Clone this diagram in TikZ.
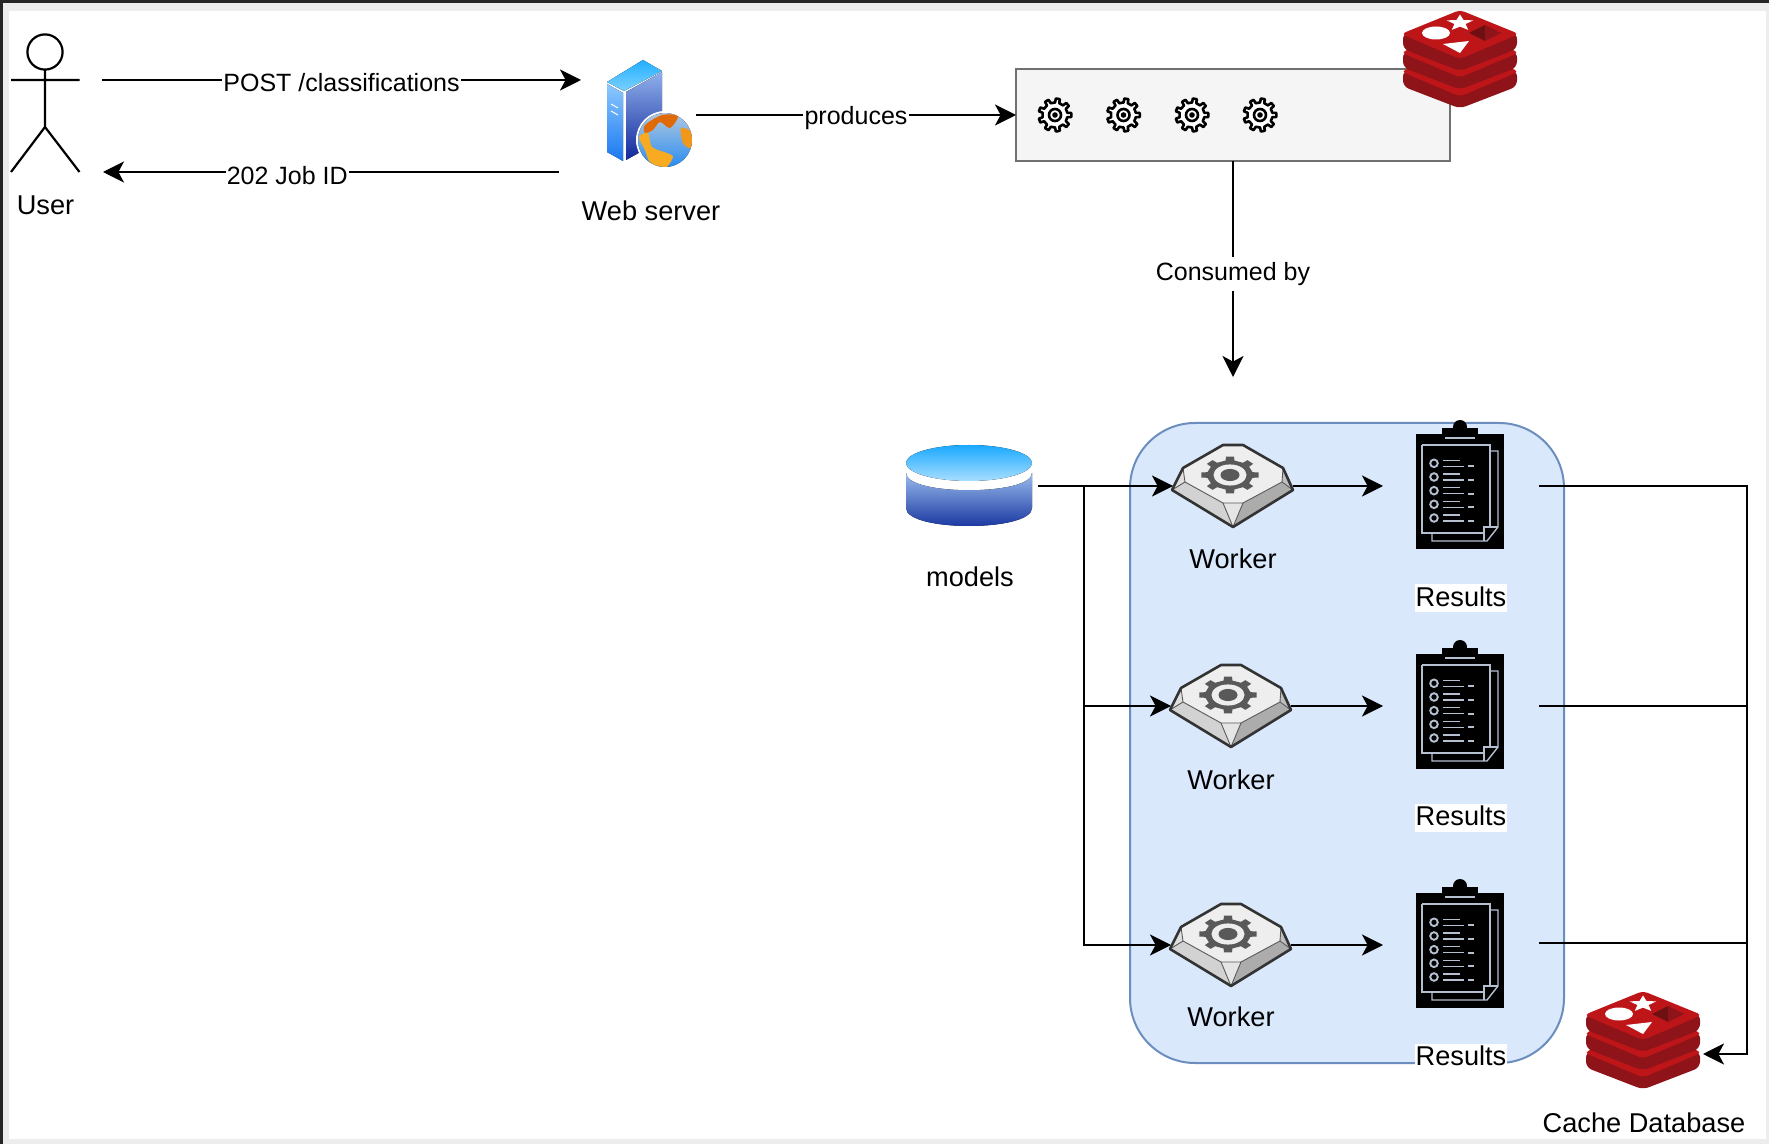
\documentclass[tikz,border=0pt]{standalone}
\usepackage{fontspec}
\setmainfont{Liberation Sans}
\usetikzlibrary{arrows.meta,calc}
\definecolor{redisBright}{HTML}{BE1519}
\definecolor{redisDark}{HTML}{8F1419}
\definecolor{redisDeep}{HTML}{6E0F12}
\definecolor{sheet}{HTML}{B4BFD0}
\definecolor{groupFill}{HTML}{DAE8FC}
\definecolor{groupLine}{HTML}{6C8EBF}
\definecolor{queueFill}{HTML}{F5F5F5}
\definecolor{queueLine}{HTML}{707070}
\definecolor{towerTopA}{HTML}{22B0FF}
\definecolor{towerTopB}{HTML}{7CD0FF}
\definecolor{towerLeftA}{HTML}{8CC8FF}
\definecolor{towerLeftB}{HTML}{1A78F0}
\definecolor{towerRightA}{HTML}{8FB0EC}
\definecolor{towerRightB}{HTML}{12289A}
\definecolor{globeA}{HTML}{B0C8E0}
\definecolor{globeB}{HTML}{2A8CF0}
\definecolor{landA}{HTML}{E06A08}
\definecolor{landB}{HTML}{F8AA20}
\definecolor{drumTopA}{HTML}{1AA9FF}
\definecolor{drumTopB}{HTML}{A8DEFF}
\definecolor{drumBodyA}{HTML}{9ABCEC}
\definecolor{drumBodyB}{HTML}{0D2A9A}
\tikzset{
  hit/.style 2 args={draw=none,inner sep=0pt,outer sep=0pt,minimum width=#1*0.5pt,minimum height=#2*0.5pt},
  lab/.style={font=\fontsize{13.6}{16}\selectfont,inner sep=0pt,text=black},
  edgelab/.style={font=\fontsize{12.5}{15}\selectfont,fill=white,inner xsep=0.6pt,inner ysep=1.5pt,text=black},
  reslab/.style={lab,fill=white,inner xsep=0.5pt,text height=11pt,text depth=3pt},
  link/.style={line width=1.1pt,draw=black},
  arrowed/.style={link,-{Stealth[length=10.5pt,width=10.5pt,inset=2.8pt]}},
  pics/redisicon/.style={code={
    \foreach \d in {37.5,18.5,0}{
      \fill[redisDark,rounded corners=3pt] (-57,22+\d) -- (-57,38+\d) -- (0,60+\d) -- (57,38+\d) -- (57,22+\d) -- cycle;
      \fill[redisBright,rounded corners=2.5pt] (-59,23+\d) -- (0,-1+\d) -- (59,23+\d) -- (0,48+\d) -- cycle;
    }
    \fill[white] (-24,22) ellipse [x radius=14,y radius=6.5];
    \fill[white] (0,3.5) -- (3.5,9) -- (13.3,9.4) -- (5.6,13) -- (8.2,18.9) -- (0,15.6) -- (-8.2,18.9) -- (-5.6,13) -- (-13.3,9.4) -- (-3.5,9) -- cycle;
    \fill[white] (-17,33) -- (9,30) -- (0,42) -- cycle;
    \fill[redisDeep] (25,14) -- (9,22) -- (25,30) -- cycle;
    \fill[redisDark] (25,14) -- (41,22) -- (25,30) -- cycle;
  }},
  pics/gearicon/.style={code={
    \draw[line width=1.3pt,fill=white,line join=round]
      (-10:12.5) foreach \a in {0,40,...,320}{ -- (\a-10:12.5) -- (\a-7:16.5) -- (\a+7:16.5) -- (\a+10:12.5) } -- cycle;
    \draw[line width=1.3pt] (0,0) circle [radius=6];
    \fill (0,0) circle [radius=2.8];
  }},
  pics/workericon/.style={code={
    \fill[gray!35] (-48,-4) -- (-10,17) -- (0,41) -- (-61,4) -- cycle;
    \fill[gray!65] (49,-4) -- (10,17) -- (0,41) -- (60,4) -- cycle;
    \fill[gray!20] (-10,17) -- (10,17) -- (0,41) -- cycle;
    \fill[gray!25] (-50,-18) -- (-48,-4) -- (-61,4) -- cycle;
    \fill[gray!50] (50,-18) -- (49,-4) -- (60,4) -- cycle;
    \fill[gray!13] (-10,-41) -- (10,-41) -- (50,-18) -- (49,-4) -- (10,17) -- (-10,17) -- (-48,-4) -- (-50,-18) -- cycle;
    \draw[line width=0.45pt,draw=gray!70!black] (-50,-18) -- (-48,-4) -- (-10,17) -- (0,41) (-48,-4) -- (-61,4) (50,-18) -- (49,-4) -- (10,17) -- (0,41) (49,-4) -- (60,4) (-10,17) -- (10,17);
    \begin{scope}[shift={(-3,-11)},yscale=0.64]
      \fill[black!65] (-11:23) foreach \a in {0,45,...,315}{ -- (\a-11:23) -- (\a-8:29) -- (\a+8:29) -- (\a+11:23) } -- cycle;
      \fill[gray!13] (0,0) circle [radius=16.5];
      \fill[black!65] (0,0) circle [radius=9.5];
    \end{scope}
    \draw[line width=1.3pt,draw=black!80,line join=round] (-10,-41) -- (10,-41) -- (50,-18) -- (60,4) -- (0,41) -- (-61,4) -- (-50,-18) -- cycle;
  }},
  pics/clipicon/.style={code={
    \fill[black] (-44,-52) rectangle (44,63);
    \fill[black] (-18,-58) rectangle (18,-42);
    \fill[black] (0,-59) circle [radius=7];
    \begin{scope}[draw=sheet,line width=0.7pt]
      \draw (-15,-48) -- (15,-48);
      \draw (-38,-41) -- (30,-41) -- (30,41);
      \draw (-38,-41) -- (-38,47) -- (24,47);
      \draw (30,-35) -- (38,-35) -- (38,41) -- (27,55) -- (-28,55) -- (-28,47);
      \draw (24,55) -- (24,41) -- (38,41);
      \foreach \r in {-22.7,-9,4.7,18.3,32}{
        \draw[line width=0.95pt] (-26,\r) circle [radius=3.8];
        \draw (-17,\r-3) -- (0,\r-3);
        \draw (-17,\r+3) -- (4,\r+3);
        \draw[line width=0.95pt] (8,\r+3) -- (14,\r+3);
      }
    \end{scope}
  }},
}
\begin{document}
\begin{tikzpicture}[x=0.5pt,y=-0.5pt]
\useasboundingbox (0,0) rectangle (1769,1144);
% window frame
\fill[gray!14] (0,0) rectangle (1769,1144);
\fill[white] (9,11) rectangle (1766,1139);
\fill[black!85] (0,0) rectangle (1769,3);
\fill[black!85] (0,0) rectangle (3,1144);

% group background
\node[hit={434}{640},draw=groupLine,line width=1pt,fill=groupFill,rounded corners=32.5pt] (group) at (1347,743) {};

% user
\node[hit={69}{138}] (user) at (45,103) {};
\draw[link] (45,52) circle [radius=17.6];
\draw[link] (45,70) -- (45,127) (11,80) -- (79.5,80) (11,172) -- (45,127) -- (79.5,172);
\node[lab] (userlabel) at (45.5,205) {User};

% web server
\node[hit={96}{110}] (web) at (648,115) {};
\fill[top color=towerTopA,bottom color=towerTopB] (607,82) -- (643,60) -- (662,71) -- (624,91) -- cycle;
\fill[top color=towerLeftA,bottom color=towerLeftB] (607,84) -- (623,93) -- (623,161) -- (607,152) -- cycle;
\fill[top color=towerRightA,bottom color=towerRightB] (626,92) -- (662,72) -- (662,140) -- (626,160) -- cycle;
\draw[white,line width=0.5pt] (611,104) -- (618,108) (611,111) -- (618,115);
\begin{scope}[shift={(665,140)}]
  \fill[white] (0,0) circle [radius=29];
  \begin{scope}
    \clip (0,0) circle [radius=27];
    \fill[top color=globeA,bottom color=globeB] (-27,-27) rectangle (27,27);
    \fill[landA] plot[smooth cycle] coordinates {(-20,-15) (-3,-25) (13,-24) (5,-12) (-5,-18) (-12,-10) (-20,-7)};
    \fill[landB!70!landA] plot[smooth cycle] coordinates {(16,-12) (28,-7) (26,8) (18,3)};
    \fill[landB] plot[smooth cycle] coordinates {(-26,-3) (-17,-7) (-13,7) (2,13) (8,17) (0,28) (-15,22) (-20,10)};
  \end{scope}
\end{scope}
\node[lab] (weblabel) at (651,211) {Web server};

% queue
\node[hit={434}{92},draw=queueLine,line width=1pt,fill=queueFill] (queue) at (1233,115) {};
\pic at (1055,115) {gearicon};
\pic at (1123.5,115) {gearicon};
\pic at (1192,115) {gearicon};
\pic at (1260,115) {gearicon};
\node[hit={114}{96}] (queueredis) at (1460,59) {};
\pic at (1460,11) {redisicon};

% models
\node[hit={126}{81}] (models) at (969,486) {};
\fill[top color=drumBodyA,bottom color=drumBodyB] (906,473) .. controls (906,496) and (1032,496) .. (1032,473) -- (1032,508) .. controls (1032,532) and (906,532) .. (906,508) -- cycle;
\fill[top color=drumTopA,bottom color=drumTopB] (969,463) ellipse [x radius=63,y radius=18];
\node[lab] (modelslabel) at (970,577) {models};

% workers
\node[hit={120}{83}] (worker1) at (1233,486) {};
\node[hit={120}{83}] (worker2) at (1231,706) {};
\node[hit={120}{83}] (worker3) at (1231,945) {};
\pic at (1233,486) {workericon};
\pic at (1231,706) {workericon};
\pic at (1231,945) {workericon};
\node[lab] (worker1label) at (1233,559) {Worker};
\node[lab] (worker2label) at (1231,780) {Worker};
\node[lab] (worker3label) at (1231,1017) {Worker};

% results
\node[hit={156}{129}] (results1) at (1461,486) {};
\node[hit={156}{129}] (results2) at (1461,706) {};
\node[hit={156}{129}] (results3) at (1461,945) {};
\pic at (1460,486) {clipicon};
\pic at (1460,706) {clipicon};
\pic at (1460,945) {clipicon};
\node[reslab] (results1label) at (1461,598.5) {Results};
\node[reslab] (results2label) at (1461,817.5) {Results};
\node[reslab] (results3label) at (1461,1057.5) {Results};

% cache database
\node[hit={115}{96}] (cache) at (1643,1040) {};
\pic at (1643,992) {redisicon};
\node[lab] (cachelabel) at (1644,1123) {Cache Database};

% ports of the connectors
\coordinate (userOut) at (102,80);
\coordinate (webIn) at (581,80);
\coordinate (webOut) at (559,172);
\coordinate (userIn) at (103,172);
\coordinate (consumedEnd) at (1233,377);
\coordinate (modelsOut) at (1038,486);
\coordinate (bus) at (1084,486);
\coordinate (rightBus) at (1747,1054);
\coordinate (cacheIn) at (1703,1054);

% connectors
\draw[arrowed] (userOut) -- node[edgelab,pos=0.5,yshift=-1.5pt] (postlabel) {POST /classifications} (webIn);
\draw[arrowed] (webOut) -- node[edgelab,pos=0.596,yshift=-2pt] (joblabel) {202 Job ID} (userIn);
\draw[arrowed] (web.east) -- node[edgelab,pos=0.5,yshift=-1.5pt] (prodlabel) {produces} (queue.west);
\draw[arrowed] (queue.south) -- node[edgelab,pos=0.514,inner ysep=2.5pt,yshift=-1pt] (consumedlabel) {Consumed by} (consumedEnd);
\draw[arrowed] (modelsOut) -- (worker1.west);
\draw[arrowed] (bus) |- (worker2.west);
\draw[arrowed] (bus) |- (worker3.west);
\draw[arrowed] (worker1.east) -- (results1.west);
\draw[arrowed] (worker2.east) -- (results2.west);
\draw[arrowed] (worker3.east) -- (results3.west);
\draw[arrowed] (results1.east) -| (rightBus) -- (cacheIn);
\draw[link] (results2.east) -- (results2.east -| rightBus);
\draw[link] ([yshift=1pt]results3.east) -- ([yshift=1pt]results3.east -| rightBus);
\end{tikzpicture}
\end{document}
